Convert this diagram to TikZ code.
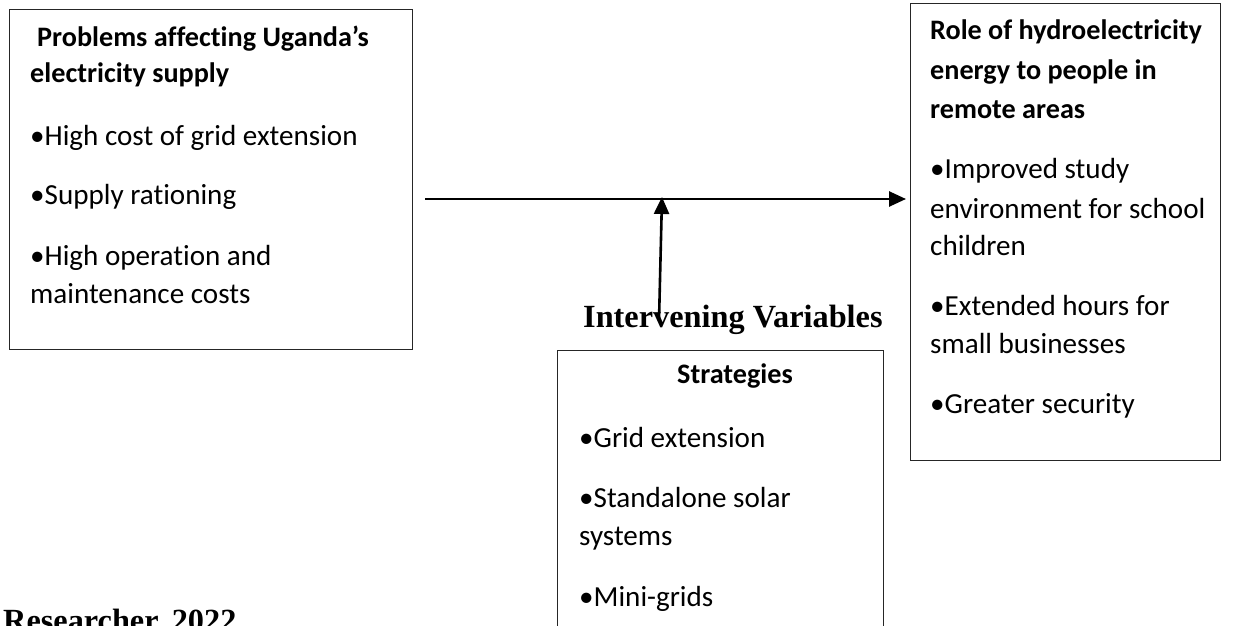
\documentclass[tikz,border=0pt]{standalone}
\usepackage{fontspec}
\setmainfont{Carlito}[Ligatures=NoCommon]
\newfontfamily\timesf{Liberation Serif}
\usetikzlibrary{arrows.meta}
\begin{document}
\begin{tikzpicture}[x=1pt,y=-1pt,
  boxst/.style={draw=black!85, line width=1.2pt, inner sep=0pt, anchor=north west},
  txt/.style={anchor=base west, inner sep=0pt, font=\fontsize{29.1}{32}\selectfont},
  btxt/.style={anchor=base west, inner sep=0pt, font=\fontsize{28.2}{32}\selectfont\bfseries},
  ttl/.style={anchor=base west, inner sep=0pt, font=\fontsize{32.3}{36}\selectfont\timesf\bfseries},
  arr/.style={line width=2.6pt, -{Triangle[length=17pt,width=15pt]}}]
\useasboundingbox (0,0) rectangle (1248,626);
% boxes
\node[boxst, minimum width=403pt, minimum height=340pt] (prob) at (9,9) {};
\node[boxst, minimum width=310pt, minimum height=457pt] (role) at (910,3) {};
\node[boxst, minimum width=326pt, minimum height=300pt] (strat) at (557,350) {};
% left box text
\node[btxt] (p1) at (37,47) {Problems affecting Uganda’s};
\node[btxt] (p2) at (30,83) {electricity supply};
\node[txt] (p3) at (30,145) {•High cost of grid extension};
\node[txt] (p4) at (30,204) {•Supply rationing};
\node[txt] (p5) at (30,265) {•High operation and};
\node[txt] (p6) at (30,303) {maintenance costs};
% right box text
\node[btxt] (r1) at (930,40) {Role of hydroelectricity};
\node[btxt] (r2) at (930,80) {energy to people in};
\node[btxt] (r3) at (930,118) {remote areas};
\node[txt] (r4) at (930,178) {•Improved study};
\node[txt] (r5) at (930,218) {environment for school};
\node[txt] (r6) at (930,255) {children};
\node[txt] (r7) at (930,315) {•Extended hours for};
\node[txt] (r8) at (930,353) {small businesses};
\node[txt] (r9) at (930,413) {•Greater security};
% strategies text
\node[btxt, anchor=base] (s0) at (735,383) {Strategies};
\node[txt] (s1) at (579,447) {•Grid extension};
\node[txt] (s2) at (579,507) {•Standalone solar};
\node[txt] (s3) at (579,545) {systems};
\node[txt] (s4) at (579,606) {•Mini-grids};
% titles
\node[ttl] (iv) at (583,327) {Intervening Variables};
\node[ttl] (src) at (3,631) {Researcher, 2022};
% arrows
\coordinate (hs) at (425,199);
\coordinate (he) at (906,199);
\coordinate (vs) at (659,321);
\coordinate (ve) at (662,197);
\draw[arr] (hs) -- (he);
\draw[arr] (vs) -- (ve);
\end{tikzpicture}
\end{document}
